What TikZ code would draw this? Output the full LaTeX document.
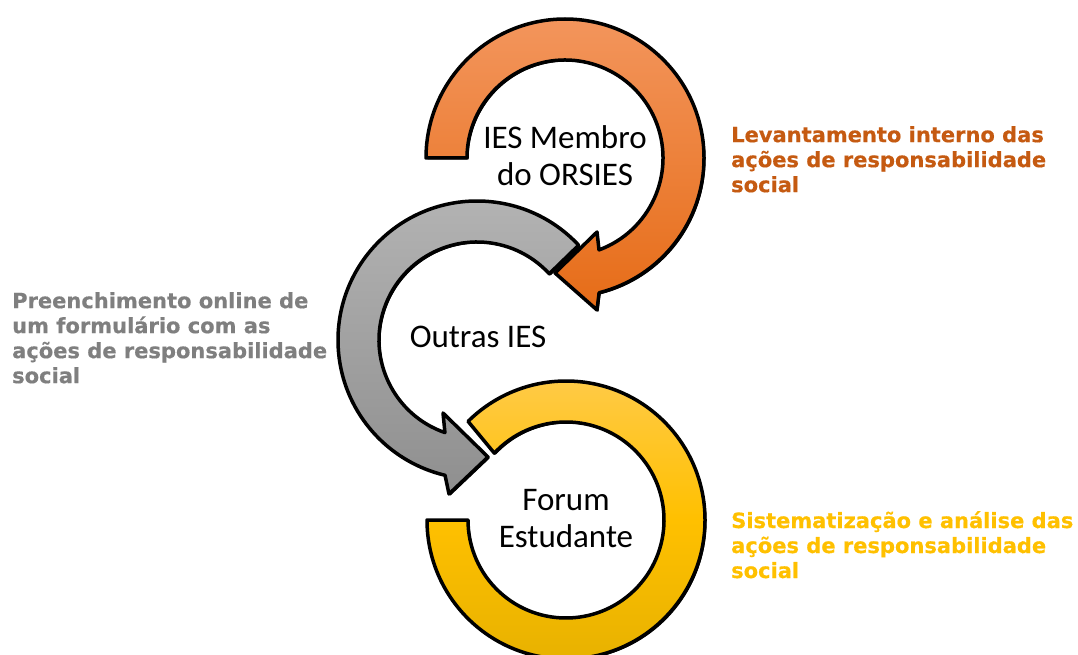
\documentclass[tikz,border=0pt]{standalone}
\usepackage{fontspec}
\setmainfont{Carlito}
\newfontfamily\verd{DejaVu Sans}[BoldFeatures={FakeBold=0.5}]
\usetikzlibrary{calc}
\definecolor{otxt}{HTML}{C55A11}
\definecolor{gtxt}{HTML}{7F7F7F}
\definecolor{ytxt}{HTML}{FFC000}
\definecolor{otop}{HTML}{F3955C}
\definecolor{obot}{HTML}{E66C17}
\definecolor{gtop}{HTML}{B4B4B4}
\definecolor{gbot}{HTML}{8F8F8F}
\definecolor{ytop}{HTML}{FFCA45}
\definecolor{ymid}{HTML}{FFC000}
\definecolor{ybot}{HTML}{E8B200}
\tikzset{
  ring/.style={draw=black, line width=3.5, line join=round},
  cen/.style={font=\fontsize{33}{37}\selectfont, align=center, inner sep=0},
  side/.style={font=\verd\bfseries\fontsize{21}{25}\selectfont, align=left, inner sep=0, anchor=north west}
}
\newcommand\ypath{($(yc)+(180:139)$) arc[start angle=180,end angle=494.8,radius=139] -- ($(yc)+(497:98)$) arc[start angle=497,end angle=180,radius=98] -- cycle}
\newcommand\gpath{($(gc)+(43:139)$) arc[start angle=43,end angle=256.7,radius=139] -- (449,-494) -- (488,-457) -- (443,-413) -- ($(gc)+(250.9:98)$) arc[start angle=250.9,end angle=42.5,radius=98] -- cycle}
\newcommand\opath{($(oc)+(180:139)$) arc[start angle=180,end angle=-75.8,radius=139] -- (597,-310) -- (555,-273) -- (597,-232) -- ($(oc)+(-69.7:98)$) arc[start angle=-69.7,end angle=180,radius=98] -- cycle}
\begin{document}
\begin{tikzpicture}[x=1pt,y=1pt]
\useasboundingbox (0,0) rectangle (1078,-655);
\coordinate (oc) at (565,-158);
\coordinate (gc) at (477,-340);
\coordinate (yc) at (566,-520);
% yellow
\begin{scope}[transform canvas={xshift=1.5pt,yshift=-1.5pt}]
\fill[black] \ypath;
\end{scope}
\path[ring, top color=ytop, bottom color=ybot, middle color=ymid] \ypath;
% gray
\begin{scope}[transform canvas={xshift=1.5pt,yshift=-1.5pt}]
\fill[black] \gpath;
\end{scope}
\path[ring, top color=gtop, bottom color=gbot] \gpath;
% orange
\begin{scope}[transform canvas={xshift=1.5pt,yshift=-1.5pt}]
\fill[black] \opath;
\end{scope}
\path[ring, top color=otop, bottom color=obot] \opath;
% labels
\node[cen] (ies) at (565,-156) {IES Membro\\do ORSIES};
\node[cen] (outras) at (478,-337) {Outras IES};
\node[cen] (forum) at (566,-519) {Forum\\Estudante};
\node[side, text=otxt] (t1) at (731,-126) {Levantamento interno das\\ações de responsabilidade\\social};
\node[side, text=gtxt] (t2) at (12,-292) {Preenchimento online de\\um formulário com as\\ações de responsabilidade\\social};
\node[side, text=ytxt] (t3) at (731,-511) {Sistematização e análise das\\ações de responsabilidade\\social};
\end{tikzpicture}
\end{document}
